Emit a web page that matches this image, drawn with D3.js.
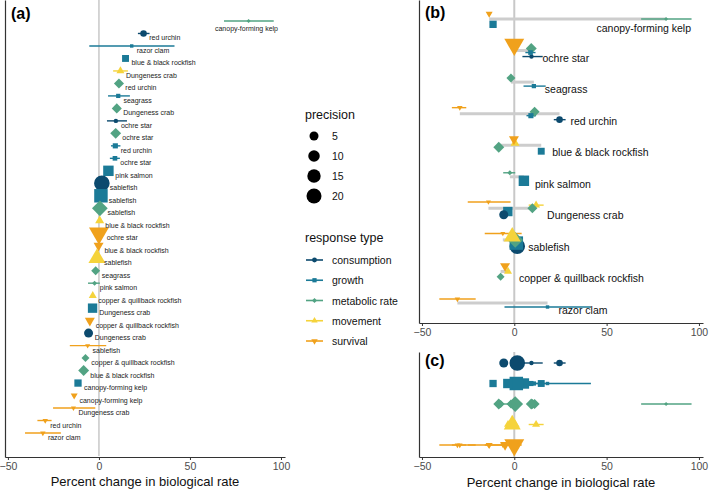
<!DOCTYPE html>
<html><head><meta charset="utf-8">
<script src="https://cdn.jsdelivr.net/npm/d3@7"></script>
<style>
body{margin:0;background:#fff}
svg{display:block}
text{font-family:"Liberation Sans",Arial,Helvetica,sans-serif}
</style>
</head><body>
<svg id="chart" width="709" height="492"></svg>
<script>
// ---------------- data ----------------
const responseTypes = ["consumption","growth","metabolic rate","movement","survival"];
const speciesOrder = ["canopy-forming kelp","ochre star","seagrass","red urchin","blue & black rockfish","pink salmon","Dungeness crab","sablefish","copper & quillback rockfish","razor clam"];
const xTicks = [-50,0,50,100];
const precisionBreaks = [5,10,15,20];

const species = ["canopy-forming kelp","red urchin","razor clam","blue & black rockfish","Dungeness crab","red urchin","seagrass","Dungeness crab","ochre star","ochre star","red urchin","ochre star","pink salmon","sablefish","sablefish","sablefish","blue & black rockfish","ochre star","blue & black rockfish","sablefish","seagrass","pink salmon","copper & quillback rockfish","Dungeness crab","copper & quillback rockfish","Dungeness crab","sablefish","copper & quillback rockfish","blue & black rockfish","canopy-forming kelp","canopy-forming kelp","Dungeness crab","red urchin","razor clam"];
const response = ["metabolic rate","consumption","growth","growth","movement","metabolic rate","growth","metabolic rate","consumption","metabolic rate","growth","growth","growth","consumption","growth","metabolic rate","movement","survival","survival","movement","metabolic rate","metabolic rate","movement","growth","survival","consumption","survival","metabolic rate","metabolic rate","growth","survival","survival","survival","survival"];
const meanChange = [82.2,24.5,18.0,14.6,11.8,11.0,10.6,9.8,9.3,9.2,9.0,8.8,5.2,1.6,1.1,0.5,0.4,0.0,-0.2,-1.1,-1.8,-2.4,-3.4,-3.5,-5.0,-5.7,-6.2,-7.4,-8.4,-11.5,-13.6,-14.0,-29.5,-30.8];
const lowerCI = [68.7,21.4,-5.3,13.6,7.8,10.0,5.0,9.0,4.4,8.5,6.6,6.0,4.6,1.2,0.7,0.1,-0.6,-0.4,-1.0,-1.5,-2.6,-6.0,-4.4,-4.2,-5.9,-6.5,-16.0,-8.3,-9.1,-12.3,-14.6,-25.2,-33.8,-40.6];
const upperCI = [96.0,27.8,41.5,15.6,15.9,12.0,17.0,10.6,15.4,9.9,11.8,11.5,5.8,2.0,1.5,0.9,1.4,0.4,0.6,-0.7,-1.0,0.5,-2.4,-2.8,-4.1,-4.9,4.0,-6.5,-7.7,-10.7,-12.6,-2.0,-26.0,-20.9];
const precision = [0.1,1.8,0.1,3.2,1.2,6,0.45,6,0.27,7.6,1.1,0.7,10.7,22,20.7,20,1.9,19.3,2.7,12.8,4.3,0.45,1.2,8,2.7,5,0.07,2.9,7.6,3.8,0.67,0.07,0.16,0.16];

// ---------------- styles ----------------
const typeColors = ["#0c4a6e","#1b7a97","#52a383","#f5d33b","#f0a11c"];
const typeShapes = ["circle","square","diamond","triangle","triangleDown"];

const data = species.map((s,i)=>({species:s,response:response[i],mean:meanChange[i],lo:lowerCI[i],hi:upperCI[i],p:precision[i]}));

const color = d3.scaleOrdinal(responseTypes, typeColors);
const shape = d3.scaleOrdinal(responseTypes, typeShapes);
const rScale = d3.scaleSqrt().domain([0,20]).range([0,6]);
const radius = p => 1.5 + rScale(p);

function shapePath(sh, r){
  switch(sh){
    case "circle": return d3.symbol(d3.symbolCircle, Math.PI*r*r)();
    case "square": { const h=0.886*r; return `M${-h},${-h}H${h}V${h}H${-h}Z`; }
    case "diamond": { const h=1.05*r; return `M0,${-h}L${h},0L0,${h}L${-h},0Z`; }
    case "triangle": { const t=1.555*r; return `M0,${-t}L${0.866*t},${0.5*t}L${-0.866*t},${0.5*t}Z`; }
    case "triangleDown": { const t=1.555*r; return `M0,${t}L${0.866*t},${-0.5*t}L${-0.866*t},${-0.5*t}Z`; }
  }
}

const svg = d3.select("#chart");
const fmt = d => d < 0 ? "\u2212" + Math.abs(d) : String(d);
const xDomain = [-51.6, 102.2];

function drawXAxis(g, x, y){
  const ax = g.append("g").attr("transform",`translate(0,${y})`)
    .call(d3.axisBottom(x).tickValues(xTicks).tickSize(3).tickSizeOuter(0).tickFormat(fmt));
  ax.select(".domain").attr("stroke","#333").attr("stroke-width",1.2);
  ax.selectAll(".tick line").attr("stroke","#333").attr("stroke-width",1);
  ax.selectAll(".tick text").attr("fill","#4d4d4d").style("font-size","10.5px");
  return ax;
}
function leftLine(g, x0, y0, y1){
  const s = d3.scaleLinear().domain([0,1]).range([y0,y1]);
  const ax = g.append("g").attr("transform",`translate(${x0},0)`)
    .call(d3.axisLeft(s).tickValues([]).tickSizeOuter(0));
  ax.select(".domain").attr("stroke","#333").attr("stroke-width",1.2);
}
function zeroLine(g, x, y0, y1, w){
  g.append("line").attr("x1",x(0)).attr("x2",x(0)).attr("y1",y0).attr("y2",y1)
   .attr("stroke","#c8c8c8").attr("stroke-width",w);
}
function points(g, rows, x, yf){
  g.selectAll(null).data(rows).join("line")
    .attr("x1",d=>x(d.lo)).attr("x2",d=>x(d.hi)).attr("y1",yf).attr("y2",yf)
    .attr("stroke",d=>color(d.response)).attr("stroke-width",1.4);
  g.selectAll(null).data(rows).join("path")
    .attr("transform",d=>`translate(${x(d.mean)},${yf(d)})`)
    .attr("d",d=>shapePath(shape(d.response), radius(d.p)))
    .attr("fill",d=>color(d.response));
}

// ---------------- panel (a) ----------------
const sortedA = data.slice().sort((a,b)=>b.mean-a.mean);
sortedA.forEach((d,i)=>d.rowA=i);
const xA = d3.scaleLinear().domain(xDomain).range([5,285]);
const yA = d3.scalePoint().domain(d3.range(sortedA.length)).range([21,433]);
const gA = svg.append("g");
zeroLine(gA, xA, 0, 456, 1.5);
points(gA, sortedA, xA, d=>yA(d.rowA));
gA.selectAll(null).data(sortedA).join("text")
  .attr("x",d=>xA(d.mean)+4+radius(d.p)*0.5)
  .attr("y",d=>yA(d.rowA)+4.5)
  .attr("dominant-baseline","central")
  .style("font-size","7px").attr("fill","#222")
  .text(d=>d.species)
  .each(function(d){
    const w=this.getComputedTextLength(), x0=+this.getAttribute("x");
    if (x0+w>278){ d3.select(this).attr("x",278-w).attr("y",yA(d.rowA)+7.5); }
  });
leftLine(gA, 5, 0, 457);
drawXAxis(gA, xA, 457);
gA.append("text").attr("x",145).attr("y",486).attr("text-anchor","middle")
  .style("font-size","13px").attr("fill","#111").text("Percent change in biological rate");
gA.append("text").attr("x",11).attr("y",19).style("font-size","16px").style("font-weight","bold").text("(a)");

// ---------------- panel (b) ----------------
const xB = d3.scaleLinear().domain(xDomain).range([419,703]);
const yB = d3.scalePoint().domain(speciesOrder).range([19,303]);
const gB = svg.append("g");
zeroLine(gB, xB, 0, 323, 2);
const bySpecies = d3.group(data, d=>d.species);
const dodgeW = 16;
bySpecies.forEach((rows)=>{
  const present = responseTypes.filter(t=>rows.some(r=>r.response===t));
  const n = present.length;
  rows.forEach(r=>{
    const i = present.indexOf(r.response);
    r.yB = yB(r.species) + ((n-1)/2 - i) * dodgeW / n;
  });
});
const ranges = speciesOrder.map(s=>{
  const rows = bySpecies.get(s);
  return {species:s, min:d3.min(rows,r=>r.mean), max:d3.max(rows,r=>r.mean)};
});
gB.selectAll(null).data(ranges).join("line")
  .attr("x1",d=>xB(d.min)).attr("x2",d=>xB(d.max)).attr("y1",d=>yB(d.species)).attr("y2",d=>yB(d.species))
  .attr("stroke","#cdcdcd").attr("stroke-width",3);
points(gB, data, xB, d=>d.yB);
gB.selectAll(null).data(ranges).join("text")
  .attr("x",d=>xB(d.max)+11).attr("y",d=>yB(d.species)+7)
  .attr("dominant-baseline","central")
  .style("font-size","10.5px").attr("fill","#111")
  .text(d=>d.species)
  .each(function(d){
    const w=this.getComputedTextLength(), x0=+this.getAttribute("x");
    if (x0+w>691){ d3.select(this).attr("x",691-w).attr("y",yB(d.species)+9); }
  });
leftLine(gB, 419, 0, 323);
drawXAxis(gB, xB, 323);
gB.append("text").attr("x",425).attr("y",18).style("font-size","16px").style("font-weight","bold").text("(b)");

// ---------------- panel (c) ----------------
const yC = d3.scalePoint().domain(responseTypes).range([363,445]);
const gC = svg.append("g");
zeroLine(gC, xB, 352, 457, 2);
points(gC, data, xB, d=>yC(d.response));
leftLine(gC, 419, 352, 457);
drawXAxis(gC, xB, 457);
gC.append("text").attr("x",561).attr("y",487).attr("text-anchor","middle")
  .style("font-size","13px").attr("fill","#111").text("Percent change in biological rate");
gC.append("text").attr("x",425).attr("y",366).style("font-size","16px").style("font-weight","bold").text("(c)");

// ---------------- legends ----------------
const gL = svg.append("g");
gL.append("text").attr("x",305).attr("y",119).style("font-size","12.5px").attr("fill","#111").text("precision");
const yP = d3.scalePoint().domain(precisionBreaks).range([136,196]);
precisionBreaks.forEach(p=>{
  gL.append("circle").attr("cx",314).attr("cy",yP(p)).attr("r",radius(p)).attr("fill","#000");
  gL.append("text").attr("x",332).attr("y",yP(p)).attr("dominant-baseline","central")
    .style("font-size","10.5px").attr("fill","#111").text(p);
});
gL.append("text").attr("x",305).attr("y",242).style("font-size","12.5px").attr("fill","#111").text("response type");
const yR = d3.scalePoint().domain(responseTypes).range([260,341]);
responseTypes.forEach(t=>{
  gL.append("line").attr("x1",306).attr("x2",323).attr("y1",yR(t)).attr("y2",yR(t))
    .attr("stroke",color(t)).attr("stroke-width",1.6);
  gL.append("path").attr("transform",`translate(314.5,${yR(t)})`)
    .attr("d",shapePath(shape(t),2.4)).attr("fill",color(t));
  gL.append("text").attr("x",332).attr("y",yR(t)).attr("dominant-baseline","central")
    .style("font-size","10.5px").attr("fill","#111").text(t);
});
</script>
</body></html>
